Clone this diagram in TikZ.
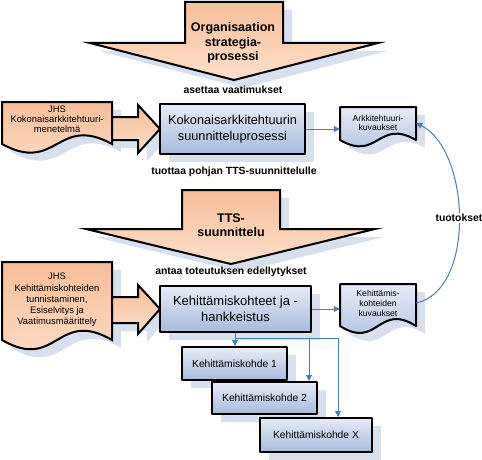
\documentclass[tikz,border=0pt]{standalone}
\usepackage{fontspec}
\setmainfont{Liberation Sans}
\usetikzlibrary{shadows,arrows.meta}

\definecolor{oranssi}{HTML}{F7BE98}
\definecolor{oranssivaalea}{HTML}{FCDFCB}
\definecolor{sininen}{HTML}{A6BBDC}
\definecolor{sinivaalea}{HTML}{E6ECF6}
\definecolor{viiva}{HTML}{4A7EBB}
\definecolor{varjo}{HTML}{D8E0EE}

% dokumenttisymboli: tyyli, x1, y1, x2, alareuna, aallon korkeus
\newcommand{\dokumentti}[6]{%
  \path[#1] (#2,#3) -- (#4,#3) -- (#4,#5)
    .. controls ({(#2+#4)/2},{#5-#6}) and ({(#2+#4)/2},{#5+#6}) .. (#2,#5) -- cycle;}

\tikzset{
  varjostus/.style={drop shadow={shadow xshift=9pt,shadow yshift=-8pt,fill=varjo,opacity=1}},
  oranssialue/.style={draw=black,line width=2pt,line join=miter,top color=oranssi,bottom color=oranssivaalea,varjostus},
  sinialue/.style={draw=black,line width=2pt,top color=sinivaalea,bottom color=sininen,varjostus},
  laatikko/.style={sinialue,rectangle,inner sep=2pt,align=center},
  yhteys/.style={draw=viiva,line width=1pt,-{Triangle[length=6pt,width=6pt]}},
  otsikko/.style={font=\bfseries\fontsize{10.4}{12}\selectfont},
  nuoliteksti/.style={align=center,font=\bfseries\fontsize{12.5}{14.5}\selectfont},
  dokteksti/.style={align=center,inner sep=0pt},
}

\begin{document}
\begin{tikzpicture}[x=1pt,y=-1pt,line join=round]
	\useasboundingbox (0,0) rectangle (482,460);
	% isot nuolet
	\path[oranssialue] (185,2)--(283,2)--(283,43)--(378,43)--(234,80)--(90,43)--(185,43)--cycle;
	\path[oranssialue] (182,190)--(280,190)--(280,229)--(375,229)--(231,264)--(86,229)--(182,229)--cycle;
	\node[nuoliteksti] (strategia) at (233,43) {Organisaation\\strategia-\\prosessi};
	\node[nuoliteksti] (tts) at (231,225) {TTS-\\suunnittelu};
	% dokumentit
	\dokumentti{oranssialue}{2}{102}{112}{144}{30}
	\dokumentti{oranssialue}{2}{262}{112}{340}{32}
	\dokumentti{sinialue}{340}{107}{416}{140}{22}
	\dokumentti{sinialue}{340}{284}{416}{326}{24}
	% nuolet dokumenteista prosesseihin
	\path[oranssialue] (112,117)--(138,117)--(138,105)--(160,129)--(138,153)--(138,140)--(112,140)--cycle;
	\path[oranssialue] (112,297)--(138,297)--(138,285)--(160,309)--(138,334)--(138,323)--(112,323)--cycle;
	\node[dokteksti,font=\fontsize{9.4}{10}\selectfont,minimum width=110pt] (jhska) at (57,119)
		{JHS\\Kokonaisarkkitehtuuri-\\menetelmä};
	\node[dokteksti,font=\fontsize{9.4}{11.3}\selectfont,minimum width=110pt] (jhskk) at (57,300)
		{JHS\\Kehittämiskohteiden\\tunnistaminen,\\Esiselvitys ja\\Vaatimusmäärittely};
	\node[dokteksti,font=\fontsize{8.6}{9.5}\selectfont,minimum width=76pt] (akuv) at (378,123)
		{Arkkitehtuuri-\\kuvaukset};
	\node[dokteksti,font=\fontsize{8.6}{10}\selectfont,minimum width=76pt] (kkuv) at (378,303)
		{Kehittämis-\\kohteiden\\kuvaukset};
	% prosessit
	\node[laatikko,minimum width=145pt,minimum height=50pt,font=\fontsize{12.75}{15.5}\selectfont]
		(ka) at (232.5,129) {Kokonaisarkkitehtuurin\\suunnitteluprosessi};
	\node[laatikko,minimum width=151pt,minimum height=46pt,font=\fontsize{13}{16}\selectfont]
		(kh) at (235.5,309) {Kehittämiskohteet ja -\\hankkeistus};
	\node[laatikko,minimum width=105pt,minimum height=33pt,font=\fontsize{10.3}{12}\selectfont]
		(k1) at (234.5,363.5) {Kehittämiskohde 1};
	\node[laatikko,minimum width=105pt,minimum height=32pt,font=\fontsize{10.3}{12}\selectfont]
		(k2) at (264.5,398) {Kehittämiskohde 2};
	\node[laatikko,minimum width=112pt,minimum height=34pt,font=\fontsize{10.3}{12}\selectfont]
		(kx) at (316,435) {Kehittämiskohde X};
	% välitekstit
	\node[otsikko] (asettaa) at (233,90) {asettaa vaatimukset};
	\node[otsikko] (tuottaa) at (234,172) {tuottaa pohjan TTS-suunnittelulle};
	\node[otsikko] (antaa) at (231,272) {antaa toteutuksen edellytykset};
	% yhteydet
	\draw[yhteys] (ka.east) -- (ka.east -| akuv.west);
	\draw[yhteys] (kh.east) -- (kh.east -| kkuv.west);
	\draw[yhteys] (kkuv.east) .. controls +(60,-13) and +(54,27) .. (akuv.east)
		node[pos=0.5,otsikko,fill=white,inner sep=1pt] (tuotokset) {tuotokset};
	\coordinate (haara1) at (235,338);
	\coordinate (haara2) at (309,338);
	\coordinate (haara3) at (338,338);
	\draw[yhteys] (haara1 |- kh.south) -- (haara1 |- k1.north);
	\draw[draw=viiva,line width=1pt] (haara1) -- (haara3);
	\draw[yhteys] (haara2) -- (haara2 |- k2.north);
	\draw[yhteys] (haara3) -- (haara3 |- kx.north);
\end{tikzpicture}
\end{document}
